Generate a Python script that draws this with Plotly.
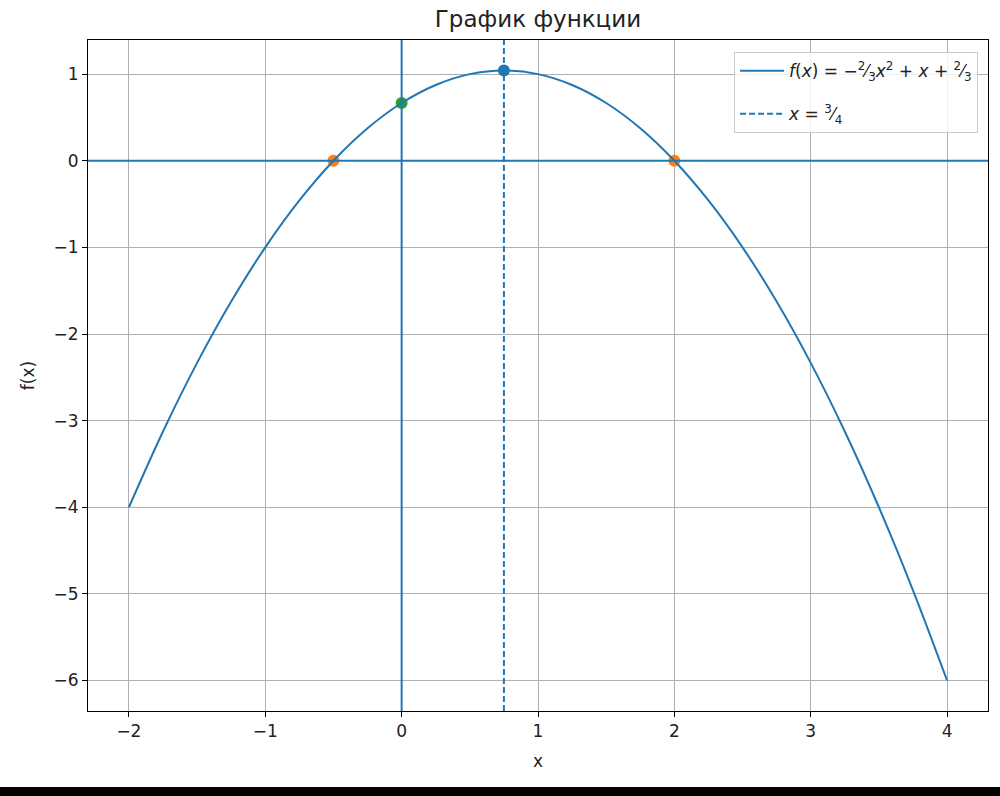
import plotly.graph_objects as go

# Curve values
x_vals = [-2.0, -1.75, -1.5, -1.25, -1.0, -0.75, -0.5, -0.25, 0.0, 0.25, 0.5, 0.75,
          1.0, 1.25, 1.5, 1.75, 2.0, 2.25, 2.5, 2.75, 3.0, 3.25, 3.5, 3.75, 4.0]
y_vals = [-4.0, -3.125, -2.3333, -1.625, -1.0, -0.4583, 0.0, 0.375, 0.6667, 0.875, 1.0, 1.0417,
          1.0, 0.875, 0.6667, 0.375, 0.0, -0.4583, -1.0, -1.625, -2.3333, -3.125, -4.0, -4.9583, -6.0]

vertex_x = [0.75]
vertex_y = [1.0417]
roots_x = [-0.5, 2.0]
roots_y = [0.0, 0.0]
intercept_x = [0.0]
intercept_y = [0.6667]

x_ticks = [-2, -1, 0, 1, 2, 3, 4]
y_ticks = [-6, -5, -4, -3, -2, -1, 0, 1]

BLUE = "#1f77b4"
ORANGE = "#ff7f0e"
GREEN = "#2ca02c"
FONT = "DejaVu Sans"

fig = go.Figure()

# markers (under the lines, as in matplotlib)
fig.add_trace(go.Scatter(x=vertex_x, y=vertex_y, mode="markers",
                         marker=dict(color=BLUE, size=12), showlegend=False, hoverinfo="skip"))
fig.add_trace(go.Scatter(x=roots_x, y=roots_y, mode="markers",
                         marker=dict(color=ORANGE, size=12), showlegend=False, hoverinfo="skip"))
fig.add_trace(go.Scatter(x=intercept_x, y=intercept_y, mode="markers",
                         marker=dict(color=GREEN, size=12), showlegend=False, hoverinfo="skip"))

fig.add_trace(go.Scatter(
    x=x_vals, y=y_vals, mode="lines", line=dict(color=BLUE, width=2, shape="spline"),
    legendgroup="a",
    name="<i>f</i>(<i>x</i>) = −<sup>2</sup>⁄<sub>3</sub><i>x</i><sup>2</sup> + <i>x</i> + <sup>2</sup>⁄<sub>3</sub>"))
fig.add_trace(go.Scatter(
    x=[vertex_x[0], vertex_x[0]], y=[-6.352, 1.394], mode="lines",
    line=dict(color=BLUE, width=2, dash="6px,3px"),
    legendgroup="b",
    name="<i>x</i> = <sup>3</sup>⁄<sub>4</sub>"))
# axis lines x=0 and y=0
fig.add_trace(go.Scatter(x=[-2.3, 4.3], y=[0, 0], mode="lines",
                         line=dict(color=BLUE, width=2), showlegend=False, hoverinfo="skip"))
fig.add_trace(go.Scatter(x=[0, 0], y=[-6.352, 1.394], mode="lines",
                         line=dict(color=BLUE, width=2), showlegend=False, hoverinfo="skip"))

axis_common = dict(showline=True, linecolor="black", linewidth=1, mirror=True,
                   ticks="outside", ticklen=5, tickwidth=1, tickcolor="black",
                   showgrid=True, gridcolor="#b0b0b0", gridwidth=1, zeroline=False,
                   tickfont=dict(family=FONT, size=17, color="#222222"))

fig.update_xaxes(range=[-2.3, 4.3], tickvals=x_ticks,
                 ticktext=[str(v).replace("-", "−") for v in x_ticks],
                 title=dict(text="x", font=dict(family=FONT, size=17, color="#222222"), standoff=14),
                 **axis_common)
fig.update_yaxes(range=[-6.352, 1.394], tickvals=y_ticks,
                 ticktext=[str(v).replace("-", "−") for v in y_ticks],
                 title=dict(text="f(x)", font=dict(family=FONT, size=17, color="#222222"), standoff=14),
                 **axis_common)

fig.add_shape(type="rect", xref="paper", yref="paper", x0=-0.2, x1=1.1, y0=-0.16, y1=-0.1133,
              fillcolor="black", line=dict(width=0), layer="above")

fig.update_layout(
    width=1000, height=796,
    margin=dict(l=88, r=12, t=40, b=85),
    paper_bgcolor="white", plot_bgcolor="white",
    title=dict(text="График функции", x=0.538, xanchor="center", y=0.976, yanchor="middle",
               font=dict(family=FONT, size=23, color="#222222")),
    font=dict(family=FONT, size=17, color="#222222"),
    legend=dict(x=0.989, y=0.982, xanchor="right", yanchor="top",
                bgcolor="rgba(255,255,255,0.8)", bordercolor="#cccccc", borderwidth=1,
                font=dict(family=FONT, size=17, color="#222222"), tracegroupgap=18,
                itemwidth=44),
    showlegend=True,
)

fig.write_html("out.html", config={"displayModeBar": False},
               post_script="document.body.style.margin='0';document.body.style.overflow='hidden';")
